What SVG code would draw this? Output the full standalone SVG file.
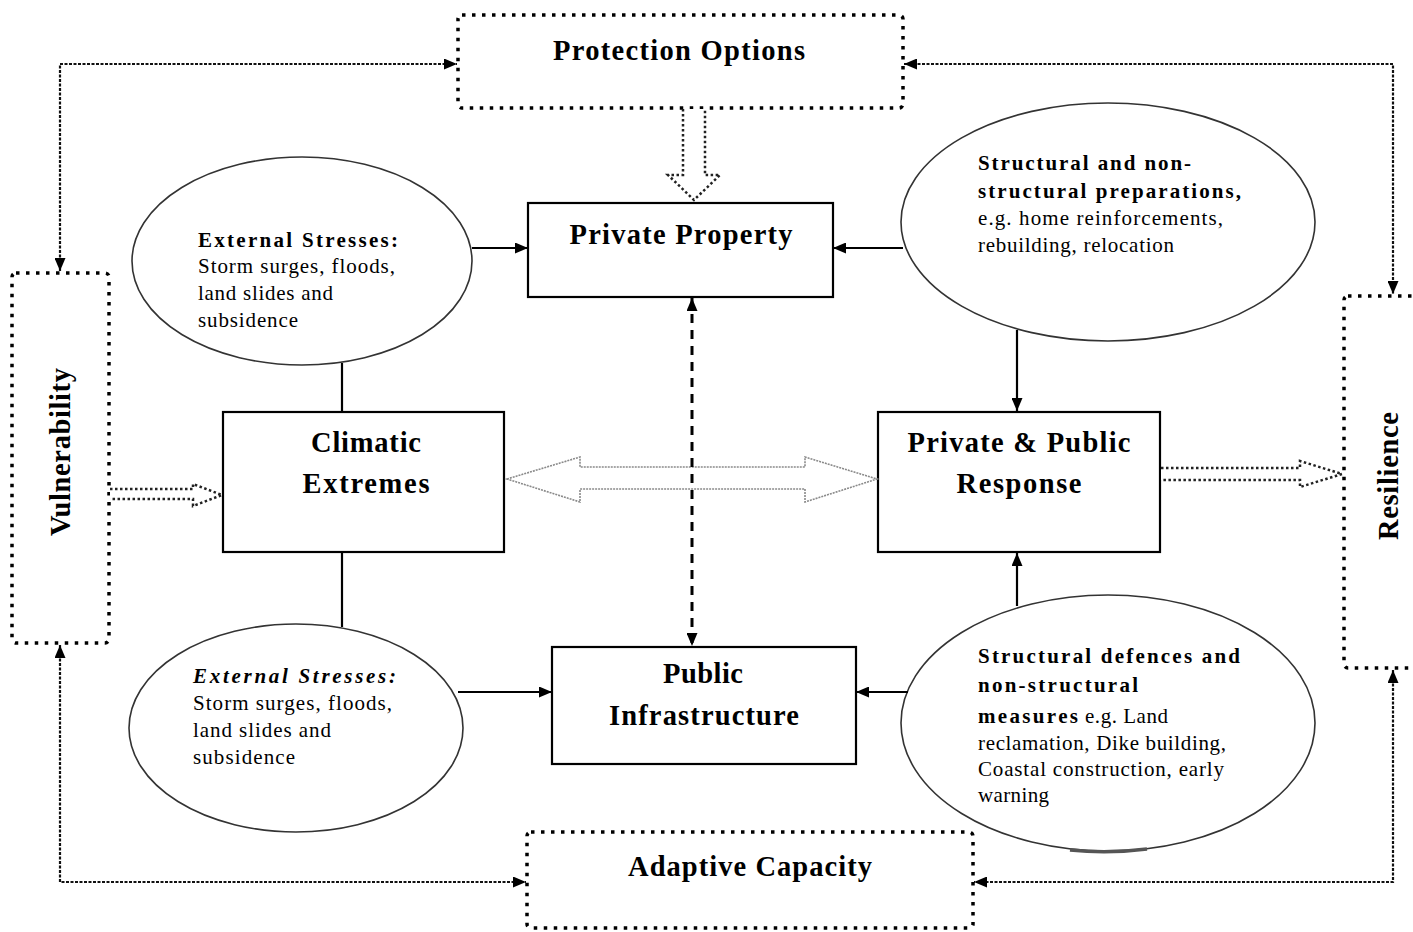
<svg xmlns="http://www.w3.org/2000/svg" width="1413" height="932" viewBox="0 0 1413 932">
<style>
.bg{fill:#fff}
.box{fill:#fff;stroke:#000;stroke-width:2.2}
.dbox{fill:#fff;stroke:#000;stroke-width:3.5;stroke-dasharray:3.5 6.5}
.ell{fill:#fff;stroke:#333;stroke-width:1.6}
.lbl{font-family:"Liberation Serif","Times New Roman",serif;font-weight:bold;font-size:28.5px;fill:#000}
.et{font-family:"Liberation Serif","Times New Roman",serif;font-size:21px;fill:#000}
.eb{font-weight:bold}
.solid{fill:none;stroke:#000;stroke-width:2.2}
.dot{fill:none;stroke:#111;stroke-width:2.2;stroke-dasharray:3 1.5}
.dash{fill:none;stroke:#000;stroke-width:3;stroke-dasharray:9 7}
.hollow{fill:#fff;stroke:#222;stroke-width:2.5;stroke-dasharray:2.5 2.5}
.dbl{fill:#fff;stroke:#8a8a8a;stroke-width:1.6;stroke-dasharray:2 1}
</style>
<defs>
<marker id="ah" viewBox="0 0 13 11" refX="13" refY="5.5" markerWidth="13" markerHeight="11" markerUnits="userSpaceOnUse" orient="auto-start-reverse">
<path d="M0,0 L13,5.5 L0,11 z" fill="#000"/>
</marker>
</defs>
<rect class="bg" x="0" y="0" width="1413" height="932"/>

<g id="protection-options">
<rect class="dbox" x="458" y="15" width="445" height="93" rx="4"/>
<text class="lbl" x="679" y="60" text-anchor="middle" textLength="252">Protection Options</text>
</g>
<g id="adaptive-capacity">
<rect class="dbox" x="527" y="832" width="446" height="96" rx="4"/>
<text class="lbl" x="750" y="876" text-anchor="middle" textLength="244">Adaptive Capacity</text>
</g>
<g id="vulnerability">
<rect class="dbox" x="12" y="273" width="97" height="370" rx="4"/>
<text class="lbl" transform="translate(70,452) rotate(-90)" x="0" y="0" text-anchor="middle" textLength="168">Vulnerability</text>
</g>
<g id="resilience">
<rect class="dbox" x="1344" y="296" width="90" height="372" rx="4"/>
<text class="lbl" transform="translate(1398,476) rotate(-90)" x="0" y="0" text-anchor="middle" textLength="128">Resilience</text>
</g>

<g id="private-property">
<rect class="box" x="528" y="203" width="305" height="94"/>
<text class="lbl" x="681" y="244" text-anchor="middle" textLength="223">Private Property</text>
</g>
<g id="climatic-extremes">
<rect class="box" x="223" y="412" width="281" height="140"/>
<text class="lbl" x="366" y="452" text-anchor="middle" textLength="110">Climatic</text>
<text class="lbl" x="366" y="493" text-anchor="middle" textLength="127">Extremes</text>
</g>
<g id="private-public-response">
<rect class="box" x="878" y="412" width="282" height="140"/>
<text class="lbl" x="1019" y="452" text-anchor="middle" textLength="223">Private &amp; Public</text>
<text class="lbl" x="1019" y="493" text-anchor="middle" textLength="125">Response</text>
</g>
<g id="public-infrastructure">
<rect class="box" x="552" y="647" width="304" height="117"/>
<text class="lbl" x="703" y="683" text-anchor="middle" textLength="80">Public</text>
<text class="lbl" x="704" y="725" text-anchor="middle" textLength="190">Infrastructure</text>
</g>

<g id="external-stresses-top">
<ellipse class="ell" cx="302" cy="261" rx="170" ry="104"/>
<text class="et eb" x="198" y="247" textLength="200">External Stresses:</text>
<text class="et" x="198" y="273" textLength="197">Storm surges, floods,</text>
<text class="et" x="198" y="300" textLength="135">land slides and</text>
<text class="et" x="198" y="327" textLength="100">subsidence</text>
</g>
<g id="external-stresses-bottom">
<ellipse class="ell" cx="296" cy="728" rx="167" ry="104"/>
<text class="et eb" x="193" y="683" font-style="italic" textLength="203">External Stresses:</text>
<text class="et" x="193" y="710" textLength="199">Storm surges, floods,</text>
<text class="et" x="193" y="737" textLength="138">land slides and</text>
<text class="et" x="193" y="764" textLength="102">subsidence</text>
</g>
<g id="structural-preparations">
<ellipse class="ell" cx="1108" cy="222" rx="207" ry="119"/>
<text class="et eb" x="978" y="170" textLength="213">Structural and non-</text>
<text class="et eb" x="978" y="198" textLength="263">structural preparations,</text>
<text class="et" x="978" y="225" textLength="245">e.g. home reinforcements,</text>
<text class="et" x="978" y="252" textLength="196">rebuilding, relocation</text>
</g>
<g id="structural-defences">
<ellipse class="ell" cx="1108" cy="723" rx="207" ry="128"/>
<path d="M1070,850 Q1108,854 1147,849" fill="none" stroke="#555" stroke-width="3.5"/>
<text class="et eb" x="978" y="663" textLength="262">Structural defences and</text>
<text class="et eb" x="978" y="692" textLength="160">non-structural</text>
<text class="et eb" x="978" y="723" textLength="100">measures</text>
<text class="et" x="1085" y="723" textLength="83">e.g. Land</text>
<text class="et" x="978" y="750" textLength="248">reclamation, Dike building,</text>
<text class="et" x="978" y="776" textLength="246">Coastal construction, early</text>
<text class="et" x="978" y="802" textLength="71">warning</text>
</g>

<g id="connectors">
<path class="dot" d="M60,271 V64 H457" marker-start="url(#ah)" marker-end="url(#ah)"/>
<path class="dot" d="M904,64 H1393 V294" marker-start="url(#ah)" marker-end="url(#ah)"/>
<path class="dot" d="M60,645 V882 H526" marker-start="url(#ah)" marker-end="url(#ah)"/>
<path class="dot" d="M1393,670 V882 H974" marker-start="url(#ah)" marker-end="url(#ah)"/>

<path class="hollow" d="M683,109 V175 H668 L694,200 L720,175 H705 V109"/>
<path class="hollow" d="M110,489 H193 V484 L222,495 L193,506 V499 H110"/>
<path class="hollow" d="M1161,468 H1300 V461 L1342,474 L1300,487 V480 H1161"/>
<path class="dbl" d="M507,479 L580,457 V467 H805 V457 L877,479 L805,502 V489 H580 V502 Z"/>

<path class="dash" d="M692,298 V646" marker-start="url(#ah)" marker-end="url(#ah)"/>

<path class="solid" d="M472,248 H528" marker-end="url(#ah)"/>
<path class="solid" d="M903,248 H833" marker-end="url(#ah)"/>
<path class="solid" d="M1017,330 V411" marker-end="url(#ah)"/>
<path class="solid" d="M342,363 V412"/>
<path class="solid" d="M342,552 V627"/>
<path class="solid" d="M458,692 H552" marker-end="url(#ah)"/>
<path class="solid" d="M908,692 H856" marker-end="url(#ah)"/>
<path class="solid" d="M1017,606 V553" marker-end="url(#ah)"/>
</g>
</svg>
